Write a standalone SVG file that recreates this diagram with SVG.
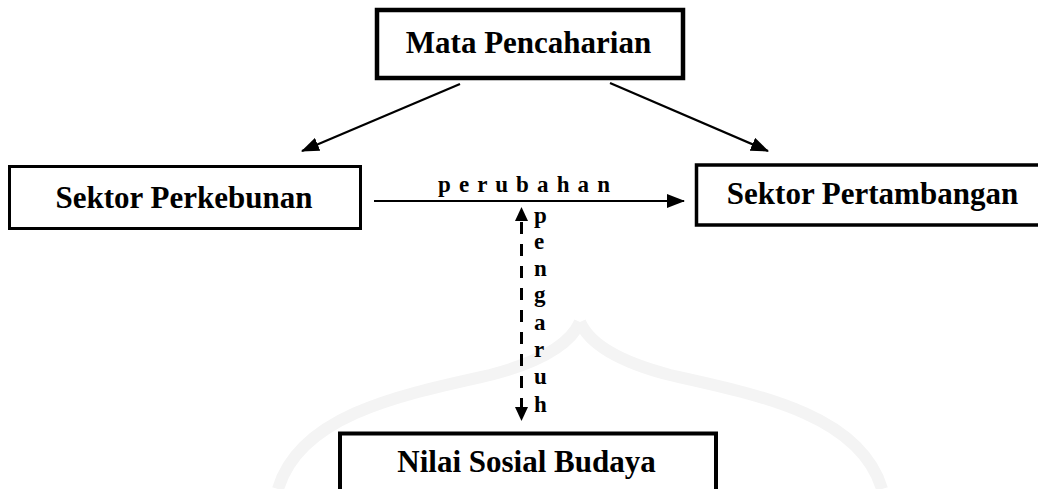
<svg xmlns="http://www.w3.org/2000/svg" width="1038" height="489" viewBox="0 0 1038 489">
<style>
  .box{fill:#fff;stroke:#000;}
  .t{font-family:"Liberation Serif","Times New Roman",serif;font-weight:bold;font-size:31px;fill:#000;text-anchor:middle;}
  .s{font-family:"Liberation Serif","Times New Roman",serif;font-weight:bold;font-size:23px;fill:#000;}
  .ln{stroke:#000;stroke-width:2.2;fill:none;}
</style>
<defs>
  <marker id="ah" viewBox="0 0 18 14" refX="17" refY="7" markerWidth="18" markerHeight="14" markerUnits="userSpaceOnUse" orient="auto">
    <path d="M0,0 L18,7 L0,14 Z" fill="#000"/>
  </marker>
  <marker id="ah2" viewBox="0 0 14 13" refX="13" refY="6.5" markerWidth="14" markerHeight="13" markerUnits="userSpaceOnUse" orient="auto-start-reverse">
    <path d="M0,0 L14,6.5 L0,13 Z" fill="#000"/>
  </marker>
</defs>
<rect width="1038" height="489" fill="#fff"/>
<g id="watermark" fill="none" stroke="#f4f4f4" stroke-width="12">
  <path d="M580,322 C570,345 540,362 490,375 C400,395 300,415 278,489"/>
  <path d="M580,322 C590,345 620,362 670,375 C760,395 860,415 882,489"/>
</g>
<g id="connectors">
  <line class="ln" x1="460" y1="84" x2="302" y2="151" marker-end="url(#ah)"/>
  <line class="ln" x1="610" y1="83" x2="768" y2="151" marker-end="url(#ah)"/>
  <line class="ln" x1="374" y1="201" x2="684" y2="201" marker-end="url(#ah)"/>
  <line x1="521.5" y1="208" x2="521.5" y2="420" stroke="#000" stroke-width="3" stroke-dasharray="0 14 12 10 12 10 12 10 12 10 12 10 12 10 12 10 12 10 12 200" marker-start="url(#ah2)" marker-end="url(#ah2)"/>
  <text class="s" x="438" y="192" textLength="172" lengthAdjust="spacing">p e r u b a h a n</text>
  <g class="s">
    <text x="534" y="223">p</text>
    <text x="534" y="249">e</text>
    <text x="534" y="276">n</text>
    <text x="534" y="302">g</text>
    <text x="534" y="330">a</text>
    <text x="534" y="357">r</text>
    <text x="534" y="384">u</text>
    <text x="534" y="412">h</text>
  </g>
</g>
<g id="mata-pencaharian">
  <rect class="box" x="377" y="10" width="306" height="68" stroke-width="4.5"/>
  <text class="t" x="528.5" y="53">Mata Pencaharian</text>
</g>
<g id="sektor-perkebunan">
  <rect class="box" x="9.5" y="166.5" width="351" height="62" stroke-width="3"/>
  <text class="t" x="184" y="208">Sektor Perkebunan</text>
</g>
<g id="sektor-pertambangan">
  <rect class="box" x="696.5" y="165" width="360" height="60" stroke-width="3.5"/>
  <text class="t" x="872.5" y="204">Sektor Pertambangan</text>
</g>
<g id="nilai-sosial-budaya">
  <rect class="box" x="340" y="433.5" width="376" height="80" stroke-width="4"/>
  <text class="t" x="526.5" y="472">Nilai Sosial Budaya</text>
</g>
</svg>
